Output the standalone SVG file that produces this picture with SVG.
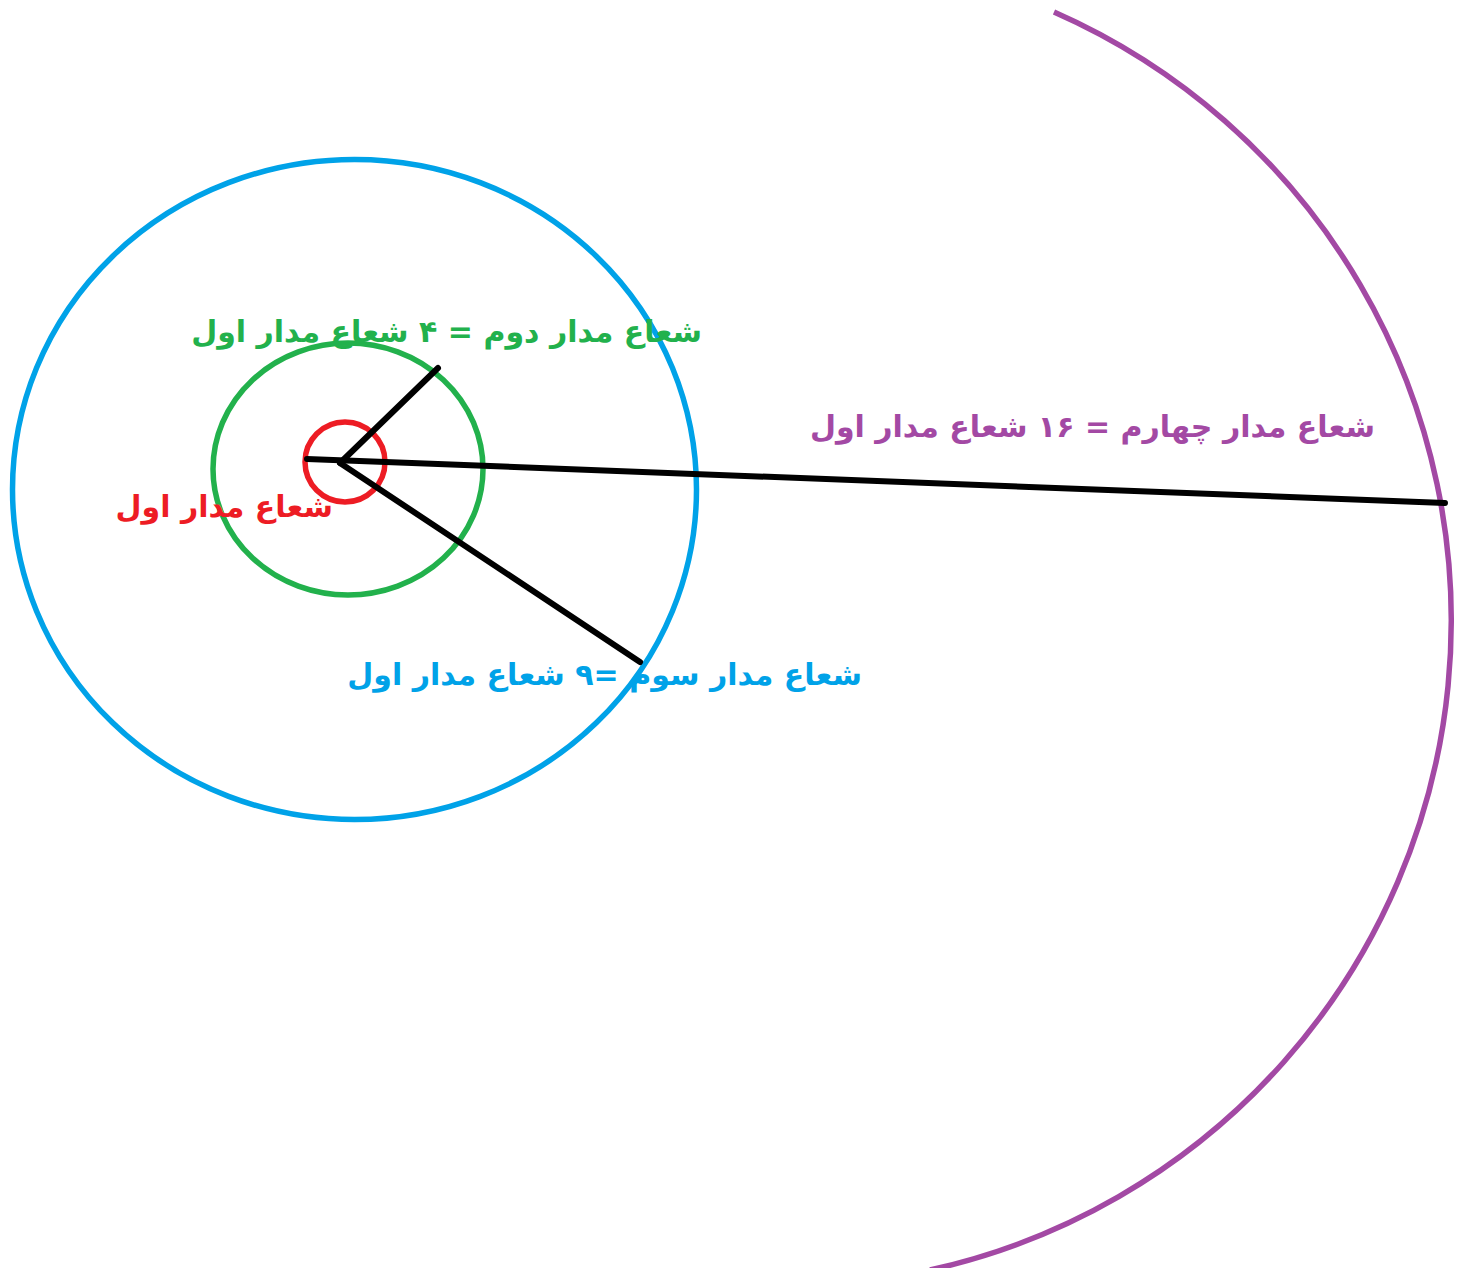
<svg xmlns="http://www.w3.org/2000/svg" width="1459" height="1268" viewBox="0 0 1459 1268">
<style>
.orb{fill:none;stroke-width:5.5}
.lbl{font-family:"DejaVu Sans","Noto Sans",sans-serif;font-weight:bold;font-size:30px;direction:rtl;text-anchor:start}
</style>
<rect width="1459" height="1268" fill="#ffffff"/>
<g id="orbit4"><path class="orb" d="M 1054 12 A 665 665 0 0 1 930 1270" stroke="#A349A4"/></g>
<g id="orbit3"><ellipse class="orb" cx="354.5" cy="489.5" rx="342" ry="330" stroke="#00A2E8"/></g>
<g id="orbit2"><ellipse class="orb" cx="348" cy="469" rx="135" ry="126" stroke="#22B14C"/></g>
<g id="orbit1"><circle class="orb" cx="345" cy="462" r="40" stroke="#ED1C24" stroke-width="6.5"/></g>
<g id="connectors" stroke="#000" stroke-width="6" stroke-linecap="round" fill="none">
<line x1="307" y1="459" x2="1445" y2="503"/>
<line x1="340" y1="463" x2="438" y2="368"/>
<line x1="340" y1="463" x2="640" y2="662"/>
</g>
<g id="label2"><text class="lbl" x="702" y="342" fill="#22B14C">شعاع مدار دوم = ۴ شعاع مدار اول</text></g>
<g id="label4"><text class="lbl" x="1375" y="437" fill="#A349A4">شعاع مدار چهارم = ۱۶ شعاع مدار اول</text></g>
<g id="label1"><text class="lbl" x="333" y="517" fill="#ED1C24">شعاع مدار اول</text></g>
<g id="label3"><text class="lbl" x="862" y="685" fill="#00A2E8">شعاع مدار سوم =۹ شعاع مدار اول</text></g>
</svg>
